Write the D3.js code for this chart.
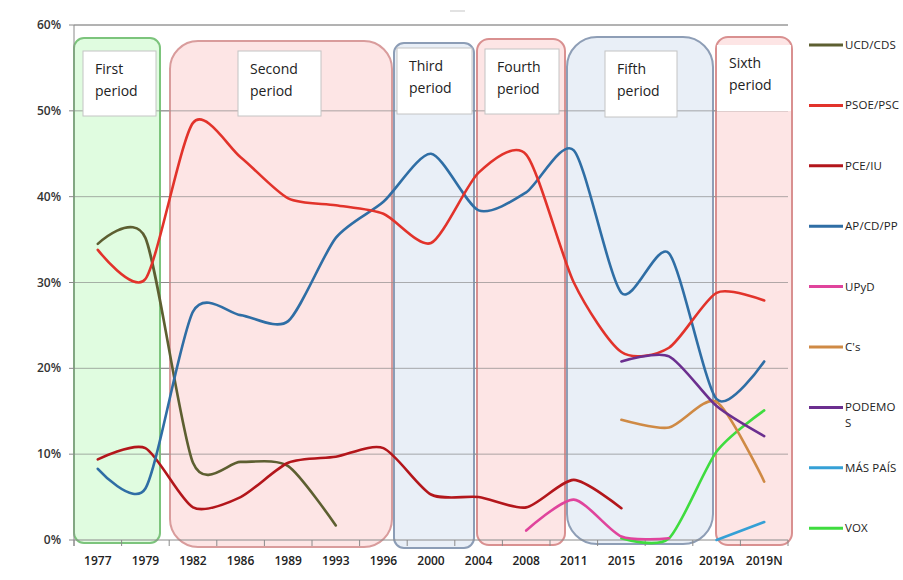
<!DOCTYPE html>
<html><head><meta charset="utf-8">
<script src="https://cdn.jsdelivr.net/npm/d3@7"></script>
<style>
html,body{margin:0;padding:0;background:#fff;overflow:hidden;}
svg{display:block;font-family:"Open Sans","Noto Sans",sans-serif;}
</style></head>
<body>
<svg id="chart" width="903" height="580"></svg>
<script>
const categories = ["1977","1979","1982","1986","1989","1993","1996","2000","2004","2008","2011","2015","2016","2019A","2019N"];
const yTicks = [0,10,20,30,40,50,60];

const ucd     = [34.5, 35.2, 9.0, 9.1, 8.6, 1.7, null, null, null, null, null, null, null, null, null];
const psoe    = [33.8, 30.4, 48.6, 44.6, 39.8, 39.0, 38.0, 34.6, 42.8, 44.9, 30.0, 21.9, 22.4, 28.8, 27.9];
const pce     = [9.4, 10.7, 3.8, 5.0, 9.0, 9.7, 10.7, 5.3, 5.0, 3.8, 7.0, 3.7, null, null, null];
const ap      = [8.3, 6.0, 26.6, 26.2, 25.5, 35.2, 39.4, 45.0, 38.4, 40.5, 45.4, 28.8, 33.4, 16.4, 20.8];
const upyd    = [null, null, null, null, null, null, null, null, null, 1.1, 4.7, 0.4, 0.2, null, null];
const cs      = [null, null, null, null, null, null, null, null, null, null, null, 14.0, 13.1, 16.1, 6.8];
const podemos = [null, null, null, null, null, null, null, null, null, null, null, 20.8, 21.4, 15.6, 12.1];
const maspais = [null, null, null, null, null, null, null, null, null, null, null, null, null, 0.0, 2.1];
const vox     = [null, null, null, null, null, null, null, null, null, null, null, 0.2, 0.2, 10.3, 15.1];

const seriesNames  = ["UCD/CDS","PSOE/PSC","PCE/IU","AP/CD/PP","UPyD","C's","PODEMOS","MÁS PAÍS","VOX"];
const legendLines  = [["UCD/CDS"],["PSOE/PSC"],["PCE/IU"],["AP/CD/PP"],["UPyD"],["C's"],["PODEMO","S"],["MÁS PAÍS"],["VOX"]];
const seriesValues = [ucd, psoe, pce, ap, upyd, cs, podemos, maspais, vox];
const seriesColors = ["#5d5f31","#e2332b","#b3161b","#2f6ea5","#e0449c","#cf8a45","#6b2f8f","#35a0d6","#3fdc3f"];
const drawOrder    = [0,2,3,1,8,4,5,6,7];

const periods = [
  {label:["First","period"],  x0:74,  x1:160, y0:38, y1:543, r:10, fill:"#dbfbdb", stroke:"#7cc47c", tb:[83,51,73,65]},
  {label:["Second","period"], x0:170, x1:392, y0:41, y1:547, r:28, fill:"#fde0e0", stroke:"#d99c9c", tb:[238,51,83,65]},
  {label:["Third","period"],  x0:394, x1:474, y0:43, y1:548, r:10, fill:"#e5ecf6", stroke:"#8c9db6", tb:[397,48,75,66]},
  {label:["Fourth","period"], x0:477, x1:565, y0:39, y1:545, r:12, fill:"#fde0e0", stroke:"#d99090", tb:[485,49,74,65]},
  {label:["Fifth","period"],  x0:567, x1:713, y0:37, y1:544, r:30, fill:"#e5ecf6", stroke:"#8e9eb6", tb:[605,51,72,66]},
  {label:["Sixth","period"],  x0:716, x1:792, y0:37, y1:545, r:12, fill:"#fde0e0", stroke:"#d99090", tb:[717,45,74,66]}
];

const svg = d3.select("#chart");
const mLeft = 74, mRight = 788, mTop = 25, mBottom = 540;

const x = d3.scalePoint().domain(categories).range([mLeft, mRight]).padding(0.5);
const y = d3.scaleLinear().domain([0, 60]).range([mBottom, mTop]);

svg.append("line").attr("x1",450).attr("x2",465).attr("y1",11).attr("y2",11)
  .attr("stroke","#d8d8d8").attr("stroke-width",1.5);

const grid = svg.append("g");
grid.selectAll("line").data(yTicks.filter(d=>d>0)).join("line")
  .attr("x1", mLeft).attr("x2", mRight)
  .attr("y1", d=>y(d)).attr("y2", d=>y(d))
  .attr("stroke","#8a8a8a").attr("stroke-width",1);

const pg = svg.append("g");
periods.forEach(p => {
  pg.append("rect")
    .attr("x", p.x0).attr("y", p.y0).attr("width", p.x1-p.x0).attr("height", p.y1-p.y0)
    .attr("rx", p.r).attr("ry", p.r)
    .attr("fill", p.fill).attr("fill-opacity", 0.85)
    .attr("stroke", p.stroke).attr("stroke-width", 2);
});

grid.clone(true).raise().attr("opacity",0.6);

const xAxisG = svg.append("g").attr("transform", `translate(0,${mBottom})`);
xAxisG.append("line").attr("x1",mLeft).attr("x2",mRight).attr("y1",0).attr("y2",0).attr("stroke","#8a8a8a");
const bounds = d3.range(categories.length+1).map(i => mLeft + i*x.step());
xAxisG.selectAll("line.tk").data(bounds).join("line").attr("class","tk")
  .attr("x1",d=>d).attr("x2",d=>d).attr("y1",0).attr("y2",6).attr("stroke","#8a8a8a");
xAxisG.selectAll("text").data(categories).join("text")
  .attr("x", d=>x(d)).attr("y", 25).attr("text-anchor","middle")
  .attr("font-size",12).attr("fill","#222").attr("font-weight",600)
  .text(d=>d);

svg.append("line").attr("x1",mLeft).attr("x2",mLeft).attr("y1",mTop).attr("y2",mBottom+6).attr("stroke","#8a8a8a");
svg.append("g").selectAll("text").data(yTicks).join("text")
  .attr("x", 61).attr("y", d=>y(d)+4).attr("text-anchor","end")
  .attr("font-size",12).attr("fill","#333").attr("font-weight",600)
  .text(d=>d+"%");
svg.append("g").selectAll("line").data(yTicks).join("line")
  .attr("x1",mLeft-5).attr("x2",mLeft).attr("y1",d=>y(d)).attr("y2",d=>y(d)).attr("stroke","#8a8a8a");

periods.forEach(p => {
  const [bx,by,bw,bh] = p.tb;
  svg.append("rect").attr("x",bx).attr("y",by).attr("width",bw).attr("height",bh)
    .attr("fill","#fff").attr("stroke", p.label[0]==="Sixth" ? "none" : "#c4c4c4").attr("stroke-width",1);
  const t = svg.append("text").attr("font-size",14).attr("fill","#222");
  const ty = by+23;
  p.label.forEach((s,i)=> t.append("tspan").attr("x", bx+12).attr("y", ty + i*22).text(s));
});

const line = d3.line()
  .defined(d => d.v !== null)
  .x(d => x(d.c)).y(d => y(d.v))
  .curve(d3.curveCardinal.tension(0.25));
const lg = svg.append("g");
drawOrder.forEach(i => {
  const pts = categories.map((c,j)=>({c, v: seriesValues[i][j]}));
  lg.append("path").attr("d", line(pts))
    .attr("fill","none").attr("stroke", seriesColors[i])
    .attr("stroke-width",2.6).attr("stroke-linecap","round");
});

const leg = svg.append("g");
seriesNames.forEach((n,i)=>{
  const ly = 45 + i*60.4;
  leg.append("line").attr("x1",809).attr("x2",843).attr("y1",ly).attr("y2",ly)
    .attr("stroke", seriesColors[i]).attr("stroke-width",3);
  const t = leg.append("text").attr("font-size",11.5).attr("fill","#222").attr("letter-spacing",0.1);
  legendLines[i].forEach((s,k)=> t.append("tspan").attr("x",845).attr("y", ly+4+k*16).text(s));
});
</script>
</body></html>
